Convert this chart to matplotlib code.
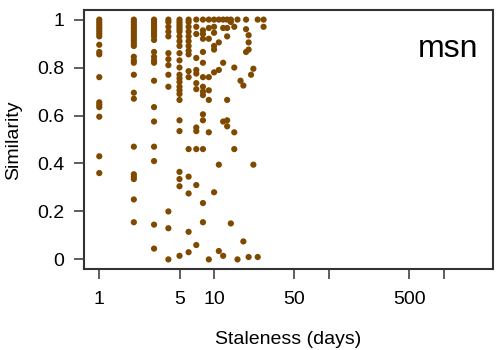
import matplotlib
matplotlib.use('Agg')
import matplotlib.pyplot as plt
import numpy as np

# staleness (days) -> similarity values
similarity_by_day = {
    1: [1.0, 0.99, 0.98, 0.97, 0.96, 0.95, 0.94, 0.93, 0.895, 0.865, 0.855, 0.76,
        0.655, 0.645, 0.635, 0.595, 0.43, 0.36],
    2: [1.0, 0.99, 0.98, 0.97, 0.96, 0.95, 0.94, 0.93, 0.92, 0.91, 0.90, 0.89,
        0.845, 0.83, 0.82, 0.77, 0.695, 0.67, 0.47, 0.355, 0.345, 0.335, 0.25, 0.155],
    3: [1.0, 0.99, 0.98, 0.97, 0.96, 0.95, 0.94, 0.93, 0.915, 0.865, 0.845, 0.83,
        0.82, 0.745, 0.635, 0.575, 0.47, 0.41, 0.145, 0.045],
    4: [1.0, 0.99, 0.97, 0.95, 0.93, 0.86, 0.835, 0.81, 0.77, 0.72, 0.2, 0.13, 0.0],
    5: [1.0, 0.99, 0.98, 0.97, 0.96, 0.95, 0.93, 0.91, 0.89, 0.86, 0.83, 0.8, 0.77,
        0.755, 0.74, 0.72, 0.705, 0.69, 0.665, 0.58, 0.535, 0.365, 0.335, 0.305, 0.015],
    6: [1.0, 0.99, 0.97, 0.95, 0.93, 0.91, 0.89, 0.87, 0.855, 0.785, 0.76, 0.46,
        0.345, 0.275, 0.115, 0.03],
    7: [1.0, 0.97, 0.94, 0.84, 0.79, 0.775, 0.735, 0.71, 0.55, 0.535, 0.46, 0.31, 0.06],
    8: [1.0, 0.955, 0.94, 0.92, 0.865, 0.82, 0.76, 0.72, 0.7, 0.685, 0.605, 0.58,
        0.46, 0.235, 0.155],
    9: [1.0, 0.965, 0.92, 0.76, 0.705, 0.665, 0.53, 0.0],
    10: [1.0, 0.97, 0.945, 0.89, 0.875, 0.78, 0.28],
    11: [1.0, 0.905, 0.79, 0.395, 0.035],
    12: [1.0, 0.965, 0.82, 0.575, 0.015],
    13: [1.0, 0.965, 0.93, 0.665, 0.58, 0.555],
    14: [1.0, 0.99, 0.15],
    15: [0.97, 0.8, 0.53, 0.46],
    16: [1.0, 0.0],
    17: [0.745],
    18: [0.725, 0.075],
    19: [1.0, 0.96, 0.865],
    20: [0.935, 0.905, 0.875, 0.01],
    21: [0.77],
    22: [0.795, 0.395],
    24: [1.0, 0.01],
    27: [1.0, 0.97],
}

x_ticks = [1, 5, 10, 50, 100, 500, 1000]
x_tick_labels = ['1', '5', '10', '50', '', '500', '']
y_ticks = [0, 0.2, 0.4, 0.6, 0.8, 1]
y_tick_labels = ['0', '0.2', '0.4', '0.6', '0.8', '1']

plt.rcParams['font.family'] = ['Liberation Sans', 'DejaVu Sans']

days = []
sims = []
for d, vals in similarity_by_day.items():
    days += [d] * len(vals)
    sims += vals

fig = plt.figure(figsize=(5, 3.5), dpi=100)
ax = fig.add_axes([84 / 500, 1 - 269 / 350, 409 / 500, 259 / 350])

ax.scatter(days, sims, s=20, color='#7f4a00', edgecolors='none', zorder=3)

ax.set_xscale('log')
ax.set_xlim(0.736, 2692)
ax.set_ylim(-0.04, 1.04)
ax.set_xticks(x_ticks)
ax.set_xticklabels(x_tick_labels)
ax.xaxis.set_minor_locator(matplotlib.ticker.NullLocator())
ax.set_yticks(y_ticks)
ax.set_yticklabels(y_tick_labels)

for side in ax.spines.values():
    side.set_color('#333333')
    side.set_linewidth(1.5)
ax.tick_params(length=7, width=1.1, color='#333333', labelsize=14, pad=7)
ax.tick_params(axis='x', pad=9)

ax.text(0.965, 0.85, 'msn', transform=ax.transAxes, ha='right', va='center', fontsize=23)

fig.text(288 / 500, 1 - 340 / 350, 'Staleness (days)', ha='center', va='center', fontsize=14)
fig.text(14 / 500, 1 - 140 / 350, 'Similarity', ha='center', va='center', rotation=90, fontsize=14)

fig.savefig('out.png', dpi=100)
